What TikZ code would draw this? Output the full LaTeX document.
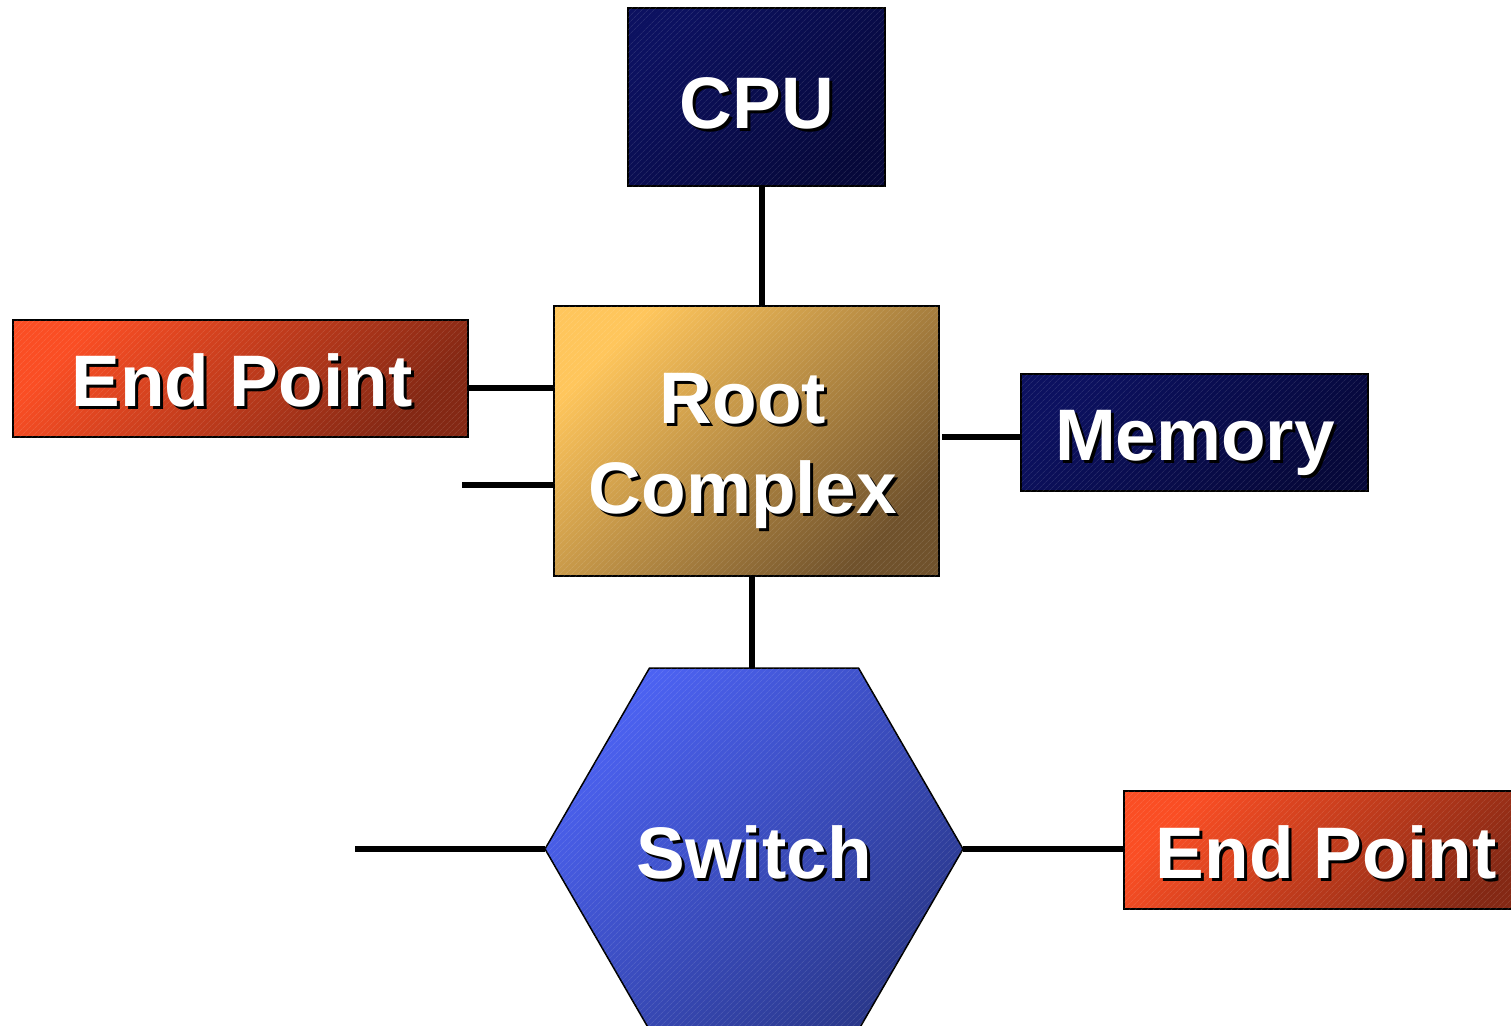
\documentclass[tikz,border=0pt]{standalone}
\usepackage{fontspec}
\setmainfont{Liberation Sans}
\usetikzlibrary{patterns.meta,shapes.geometric}

\definecolor{navyA}{RGB}{12,17,96}
\definecolor{navyB}{RGB}{6,8,58}
\definecolor{rootA}{RGB}{255,198,92}
\definecolor{rootB}{RGB}{112,82,44}
\definecolor{epA}{RGB}{250,78,36}
\definecolor{epB}{RGB}{132,40,20}
\definecolor{swA}{RGB}{76,98,242}
\definecolor{swB}{RGB}{42,56,140}

\tikzset{
  box/.style={draw=black, line width=1.5pt, inner sep=0pt, outer sep=0pt,
    postaction={pattern={Lines[angle=45,distance=4pt,line width=0.6pt]},
      pattern color=white, fill opacity=0.16}},
  navybox/.style={box, top color=navyA, bottom color=navyB, shading angle=45},
  rootbox/.style={box, top color=rootA, bottom color=rootB, shading angle=45},
  epbox/.style={box, top color=epA, bottom color=epB, shading angle=45},
  swbox/.style={box, top color=swA, bottom color=swB, shading angle=45,
    regular polygon, regular polygon sides=6},
  link/.style={line width=6pt, black},
  lbltext/.style={text=white, font=\fontsize{73}{90}\selectfont\bfseries,
    align=center, inner sep=0pt, anchor=base},
}

% white label with a black drop shadow
\newcommand\shadowlabel[3]{%
  \node[lbltext, text=black] at ([shift={(3,3)}]#2) {#3};
  \node[lbltext] (#1) at (#2) {#3};}

\begin{document}
\begin{tikzpicture}[x=1pt, y=-1pt]
  \useasboundingbox (0,0) rectangle (1511,1025);
  \clip (0,0) rectangle (1511,1025);

  % blocks
  \node[navybox, minimum width=257, minimum height=178] (cpu) at (756.5,97) {};
  \node[rootbox, minimum width=385, minimum height=270] (root) at (746.5,441) {};
  \node[epbox, minimum width=455, minimum height=117] (epl) at (240.5,378.5) {};
  \node[navybox, minimum width=347, minimum height=117] (mem) at (1194.5,432.5) {};
  \node[swbox, minimum size=418] (sw) at (754,849) {};
  \node[epbox, minimum width=420, minimum height=118] (epr) at (1334,850) {};

  % free ends of the open links
  \coordinate (stubA) at (462,485);
  \coordinate (stubB) at (355,849);

  % links
  \draw[link] ([xshift=5.5]cpu.south) -- ([xshift=5.5]cpu.south |- root.north);
  \draw[link] ([yshift=-9.5]epl.east) -- ([yshift=-9.5]epl.east -| root.west);
  \draw[link] (stubA) -- (stubA -| root.west);
  \draw[link] ([yshift=-4.5]mem.west) -- ([yshift=-4.5,xshift=3]mem.west -| root.east);
  \draw[link] ([xshift=5.5]root.south) -- ([xshift=5.5]root.south |- sw.north);
  \draw[link] (stubB) -- (sw.west);
  \draw[link] (sw.east) -- (sw.east -| epr.west);

  % labels
  \shadowlabel{tcpu}{757,128}{CPU}
  \shadowlabel{troot}{743,513}{Root\\Complex}
  \shadowlabel{tepl}{242,406}{End Point}
  \shadowlabel{tmem}{1195,460}{Memory}
  \shadowlabel{tsw}{754,878}{Switch}
  \shadowlabel{tepr}{1326,878}{End Point}
\end{tikzpicture}
\end{document}
